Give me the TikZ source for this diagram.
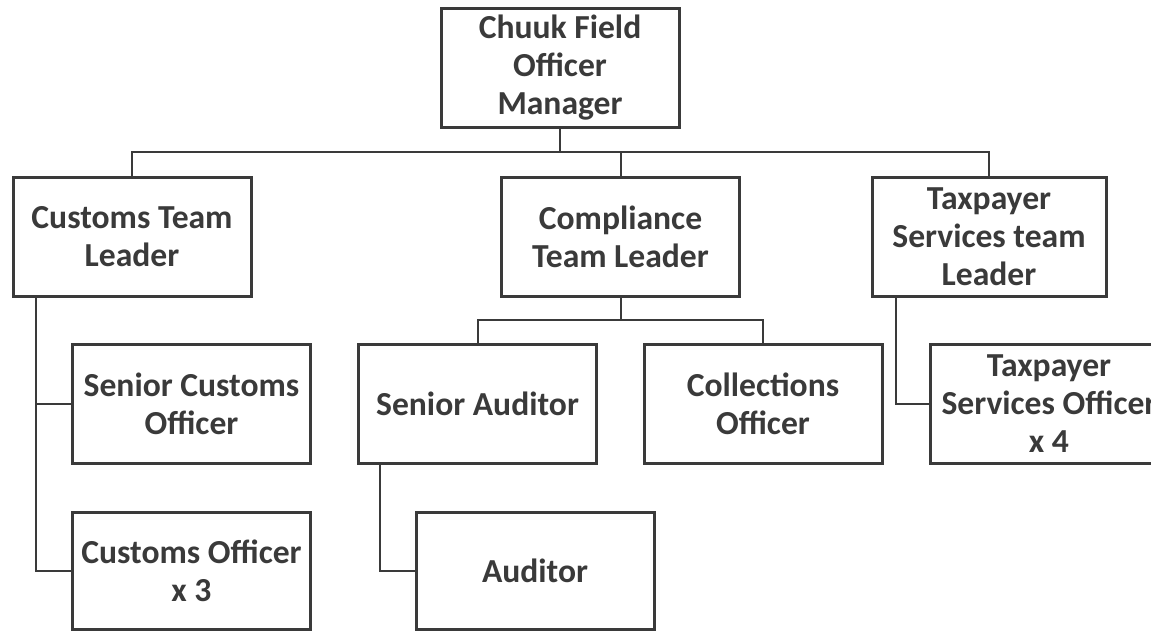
\documentclass[tikz,border=0pt]{standalone}
\usepackage{fontspec}
\setmainfont{Carlito}
\definecolor{inkgray}{HTML}{3A3A3A}
\tikzset{
every node/.style={font=\bfseries\fontsize{16.8}{19}\selectfont, text=inkgray}, % text of every box
post/.style={draw=inkgray, line width=1.5pt, minimum width=119pt, minimum height=59.5pt, align=center, inner sep=0pt}, % one job in the chart
link/.style={draw=inkgray, line width=1pt}, % reporting line
}

\begin{document}
\begin{tikzpicture}[x=0.5pt, y=-0.5pt]
    \useasboundingbox (0,0) rectangle (1151,631);
    \node[post] (mgr) at (560,68) {Chuuk Field\\Officer\\Manager};
    \node[post] (cust) at (132,236.5) {Customs Team\\Leader};
    \node[post] (comp) at (620.5,236.5) {Compliance\\Team Leader};
    \node[post, minimum width=117pt] (tax) at (989,236.5) {Taxpayer\\Services team\\Leader};
    \node[post] (scust) at (191.5,403.5) {Senior Customs\\Officer};
    \node[post] (saud) at (477.5,403.5) {Senior Auditor};
    \node[post] (coll) at (763,403.5) {Collections\\Officer};
    \node[post] (tso) at (1049,403.5) {Taxpayer\\Services Officer\\x 4};
    \node[post, minimum height=58.5pt] (cofc) at (191.5,570.5) {Customs Officer\\x 3};
    \node[post, minimum height=58.5pt] (aud) at (535,570.5) {Auditor};
    % manager to the three team leaders
    \coordinate (topbar) at (0,152);
    \draw[link] (mgr.south) -- (mgr.south |- topbar);
    \draw[link] (cust.north) |- (tax.north |- topbar) -- (tax.north);
    \draw[link] (comp.north) -- (comp.north |- topbar);
    % compliance team
    \coordinate (midbar) at (0,320);
    \draw[link] (comp.south) -- (comp.south |- midbar);
    \draw[link] (saud.north) |- (coll.north |- midbar) -- (coll.north);
    \coordinate (auddrop) at ([xshift=11.5pt]saud.south west);
    \draw[link] (auddrop) |- (aud.west);
    % customs team
    \coordinate (custdrop) at ([xshift=12pt]cust.south west);
    \draw[link] (custdrop) |- (cofc.west);
    \draw[link] (custdrop |- scust.west) -- (scust.west);
    % taxpayer services team
    \coordinate (taxdrop) at ([xshift=12.5pt]tax.south west);
    \draw[link] (taxdrop) |- (tso.west);
\end{tikzpicture}
\end{document}
